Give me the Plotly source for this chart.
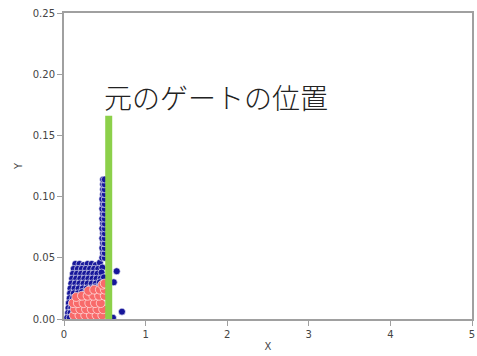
import plotly.graph_objects as go

# ---- data ----
blue_x = [
    0.14, 0.19, 0.24, 0.29, 0.34, 0.39, 0.44,
    0.12, 0.17, 0.22, 0.27, 0.32, 0.37, 0.42, 0.47,
    0.11, 0.16, 0.21, 0.26, 0.31, 0.36, 0.41, 0.46,
    0.10, 0.15, 0.20, 0.25, 0.30, 0.35, 0.40, 0.45, 0.49,
    0.09, 0.14, 0.19, 0.24, 0.29, 0.34, 0.39, 0.44,
    0.08, 0.13, 0.18, 0.23, 0.28, 0.33, 0.38, 0.43,
    0.075, 0.12, 0.17, 0.22, 0.27, 0.32, 0.37,
    0.07, 0.11,
    0.06, 0.10,
    0.055, 0.09,
    0.05, 0.08,
    0.04, 0.07, 0.12, 0.25, 0.40,
    0.47, 0.50, 0.48, 0.50, 0.47, 0.50, 0.48, 0.50, 0.47, 0.50,
    0.48, 0.50, 0.47, 0.50, 0.48, 0.50, 0.47, 0.50, 0.48, 0.50,
    0.47, 0.50, 0.48, 0.50, 0.47, 0.50, 0.48, 0.50,
    0.48, 0.50, 0.48, 0.50, 0.48, 0.50,
    0.20, 0.39, 0.45, 0.30,
    0.646, 0.61, 0.71, 0.60,
]
blue_y = [
    0.045, 0.045, 0.044, 0.045, 0.045, 0.044, 0.046,
    0.041, 0.041, 0.041, 0.041, 0.041, 0.041, 0.041, 0.042,
    0.037, 0.037, 0.037, 0.037, 0.037, 0.037, 0.037, 0.038,
    0.033, 0.033, 0.033, 0.033, 0.033, 0.033, 0.033, 0.033, 0.034,
    0.029, 0.029, 0.029, 0.029, 0.029, 0.029, 0.029, 0.030,
    0.025, 0.025, 0.025, 0.025, 0.025, 0.025, 0.026, 0.026,
    0.021, 0.021, 0.021, 0.022, 0.022, 0.023, 0.024,
    0.017, 0.017,
    0.013, 0.013,
    0.009, 0.009,
    0.005, 0.005,
    0.001, 0.001, 0.001, 0.001, 0.001,
    0.050, 0.050, 0.054, 0.054, 0.058, 0.058, 0.062, 0.062, 0.066, 0.066,
    0.070, 0.070, 0.074, 0.074, 0.078, 0.078, 0.082, 0.082, 0.086, 0.086,
    0.090, 0.090, 0.094, 0.094, 0.098, 0.098, 0.102, 0.102,
    0.106, 0.106, 0.110, 0.110, 0.114, 0.114,
    0.013, 0.008, 0.019, 0.003,
    0.039, 0.030, 0.006, 0.001,
]

red_x = [
    0.12, 0.19, 0.26, 0.33, 0.40, 0.47,
    0.13, 0.20, 0.27, 0.34, 0.41, 0.48,
    0.11, 0.17, 0.24, 0.31, 0.38, 0.45,
    0.15, 0.22, 0.29, 0.36, 0.43, 0.50,
    0.30, 0.37, 0.44, 0.50,
    0.47, 0.50,
]
red_y = [
    0.003, 0.003, 0.003, 0.003, 0.003, 0.003,
    0.008, 0.008, 0.008, 0.008, 0.008, 0.008,
    0.013, 0.013, 0.013, 0.013, 0.013, 0.013,
    0.018, 0.019, 0.019, 0.019, 0.019, 0.019,
    0.023, 0.024, 0.024, 0.024,
    0.028, 0.029,
]

gate_x = 0.548
gate_top = 0.166
gate_label = "元のゲートの位置"
label_x = 0.47
label_y = 0.181

x_ticks = [0, 1, 2, 3, 4, 5]
y_ticks = [0.00, 0.05, 0.10, 0.15, 0.20, 0.25]

fig = go.Figure()
fig.add_trace(go.Scatter(
    x=blue_x, y=blue_y, mode="markers",
    marker=dict(size=7, color="#16169a", line=dict(color="white", width=0.6)),
    showlegend=False))
fig.add_trace(go.Scatter(
    x=red_x, y=red_y, mode="markers",
    marker=dict(size=9, color="#f86a6a", line=dict(color="white", width=0.6)),
    showlegend=False))

fig.add_shape(type="line", x0=gate_x, x1=gate_x, y0=-0.002, y1=gate_top,
              xref="x", yref="y", layer="above",
              line=dict(color="#8cd04a", width=7))

fig.add_annotation(x=label_x, y=label_y, xref="x", yref="y", text=gate_label,
                   showarrow=False, xanchor="left", yanchor="middle",
                   font=dict(family="Noto Sans CJK JP", size=28, color="#222222", weight=300))

axis_common = dict(showgrid=False, zeroline=False, showline=True, mirror=True,
                   linecolor="#a0a0a0", linewidth=2, ticks="outside", ticklen=5,
                   tickcolor="#a0a0a0", tickwidth=1,
                   tickfont=dict(family="DejaVu Sans", size=10, color="#444444"))

fig.update_xaxes(range=[0, 5], tickvals=x_ticks, ticktext=[str(v) for v in x_ticks],
                 title=dict(text="X", font=dict(family="DejaVu Sans", size=10, color="#444444"), standoff=4),
                 **axis_common)
fig.update_yaxes(range=[0, 0.25], tickvals=y_ticks, ticktext=[f"{v:.2f}" for v in y_ticks],
                 title=dict(text="Y", font=dict(family="DejaVu Sans", size=10, color="#444444"), standoff=8),
                 **axis_common)

fig.update_layout(width=477, height=356, margin=dict(l=64, r=3, t=13, b=37),
                  plot_bgcolor="white", paper_bgcolor="white")

fig.write_html("out.html")
